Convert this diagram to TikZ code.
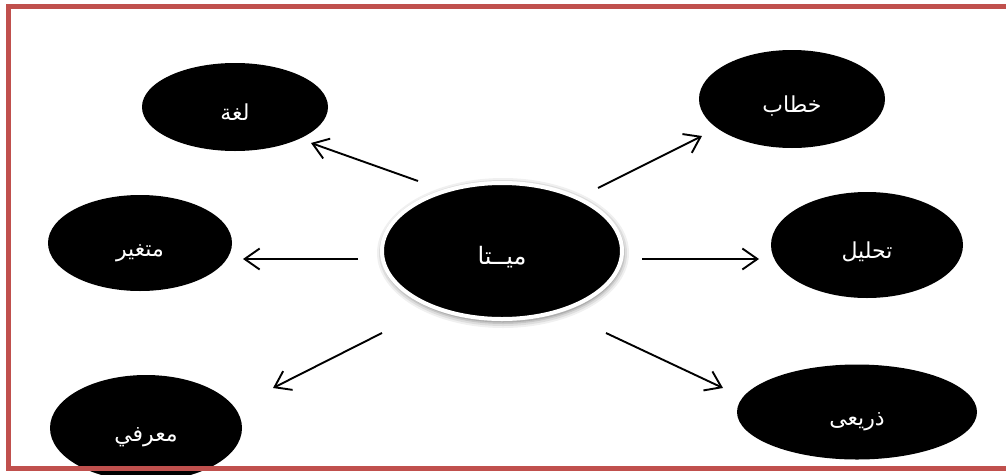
\documentclass[tikz,border=0pt]{standalone}
\usepackage{fontspec}
\usetikzlibrary{shapes.geometric,arrows.meta}
\TeXXeTstate=1
\newfontfamily\arabicfont[Script=Arabic]{DejaVu Sans}
\definecolor{framered}{RGB}{192,80,77}
% label with zero height and depth, baseline set a little below the centre
\newcommand{\lbl}[1]{\raisebox{-13pt}[0pt][0pt]{\beginR #1\endR}}
\tikzset{
  blob/.style={ellipse, fill=black, text=white, inner sep=0pt,
    font=\arabicfont\fontsize{22}{24}\selectfont},
  arr/.style={-{Straight Barb[length=15pt,width=21pt]}, line width=1.9pt, black},
}
\begin{document}
\begin{tikzpicture}[x=1pt,y=-1pt]
\useasboundingbox (0,0) rectangle (1006,474);

% outer nodes
\node[blob, minimum width=186pt, minimum height=88pt] (lugha) at (235,107) {\lbl{لغة}};
\node[blob, minimum width=186pt, minimum height=98pt] (khitab) at (792,99) {\lbl{خطاب}};
\node[blob, minimum width=184pt, minimum height=96pt] (mutaghayyir) at (140,243) {\lbl{متغير}};
\node[blob, minimum width=192pt, minimum height=106pt] (tahlil) at (867,245) {\lbl{تحليل}};
\node[blob, minimum width=192pt, minimum height=106pt] (maarifi) at (146,428) {\lbl{معرفي}};
\node[blob, minimum width=240pt, minimum height=95pt] (dharai) at (857,412) {\lbl{ذريعى}};

% soft shadow of the central node
\foreach \g/\o in {16/0.06,12/0.08,8/0.10,5/0.12}
  \fill[black,opacity=\o] (503,253) ellipse ({118+\g/2} and {67+\g/2});
% central node
\node[ellipse, fill=black, draw=white, line width=4pt, inner sep=0pt,
  minimum width=240pt, minimum height=136pt, text=white,
  font=\arabicfont\fontsize{24}{26}\selectfont] (meta) at (502,251) {\lbl{ميــتا}};

% arrow ends
\coordinate (s1) at (418,181); \coordinate (e1) at (311,143);
\coordinate (s2) at (598,188); \coordinate (e2) at (702,136);
\coordinate (s3) at (358,259); \coordinate (e3) at (243,259);
\coordinate (s4) at (642,259); \coordinate (e4) at (759,259);
\coordinate (s5) at (382,333); \coordinate (e5) at (273,388);
\coordinate (s6) at (606,333); \coordinate (e6) at (723,388);

\draw[arr] (s1) -- (e1);
\draw[arr] (s2) -- (e2);
\draw[arr] (s3) -- (e3);
\draw[arr] (s4) -- (e4);
\draw[arr] (s5) -- (e5);
\draw[arr] (s6) -- (e6);

% frame
\draw[framered, line width=5pt] (1015,6.5) -- (8.5,6.5) -- (8.5,468.5) -- (1015,468.5);
\end{tikzpicture}
\end{document}
